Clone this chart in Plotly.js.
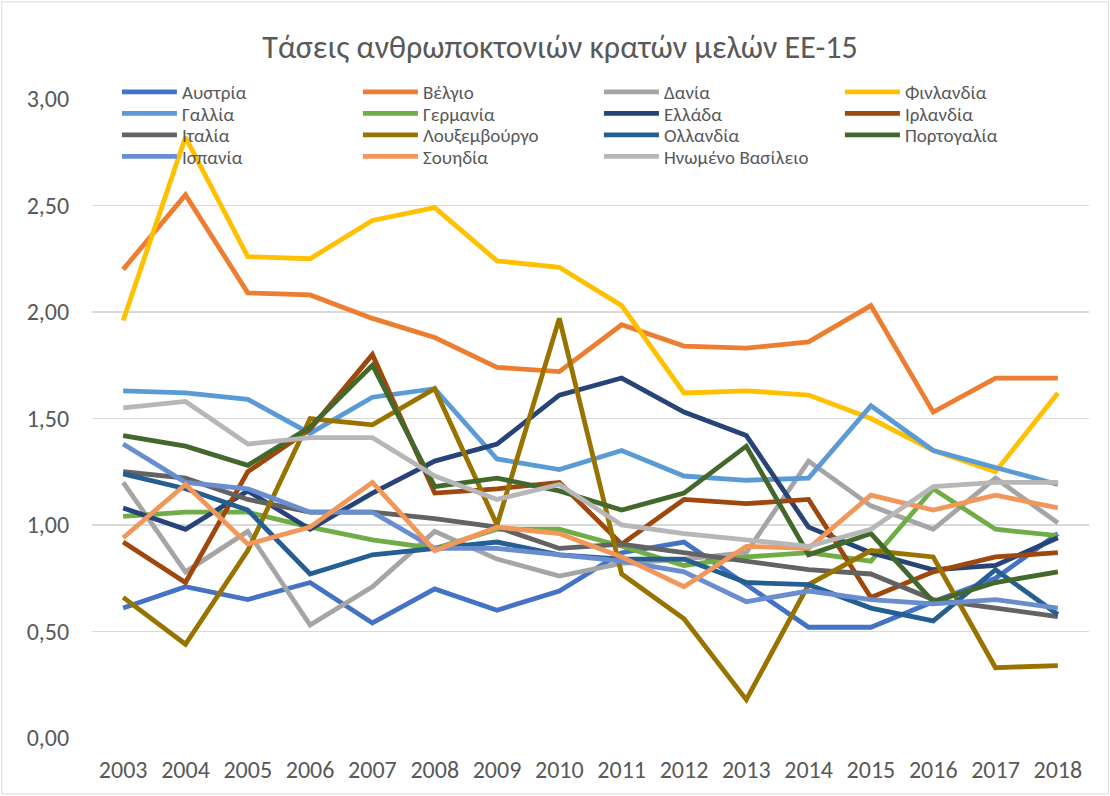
<!DOCTYPE html>
<html>
<head>
<meta charset="utf-8">
<script src="https://cdn.plot.ly/plotly-3.0.1.min.js"></script>
<style>html,body{margin:0;padding:0;background:#fff;}#chart{width:1110px;height:796px;}</style>
</head>
<body>
<div id="chart"></div>
<script>
const years = ["2003","2004","2005","2006","2007","2008","2009","2010","2011","2012","2013","2014","2015","2016","2017","2018"];

const austria     = [0.61,0.71,0.65,0.73,0.54,0.70,0.60,0.69,0.87,0.92,0.72,0.52,0.52,0.64,0.75,0.96];
const belgium     = [2.20,2.55,2.09,2.08,1.97,1.88,1.74,1.72,1.94,1.84,1.83,1.86,2.03,1.53,1.69,1.69];
const denmark     = [1.20,0.78,0.97,0.53,0.71,0.97,0.84,0.76,0.82,0.84,0.87,1.30,1.09,0.98,1.22,1.01];
const finland     = [1.96,2.82,2.26,2.25,2.43,2.49,2.24,2.21,2.03,1.62,1.63,1.61,1.50,1.35,1.25,1.62];
const france      = [1.63,1.62,1.59,1.43,1.60,1.64,1.31,1.26,1.35,1.23,1.21,1.22,1.56,1.35,1.27,1.19];
const germany     = [1.04,1.06,1.06,0.99,0.93,0.89,0.98,0.98,0.90,0.81,0.85,0.87,0.83,1.17,0.98,0.95];
const greece      = [1.08,0.98,1.16,0.98,1.15,1.30,1.38,1.61,1.69,1.53,1.42,0.99,0.87,0.79,0.81,0.94];
const ireland     = [0.92,0.73,1.25,1.45,1.80,1.15,1.17,1.20,0.91,1.12,1.10,1.12,0.66,0.78,0.85,0.87];
const italy       = [1.25,1.22,1.12,1.06,1.06,1.03,0.99,0.89,0.91,0.87,0.83,0.79,0.77,0.65,0.61,0.57];
const luxembourg  = [0.66,0.44,0.88,1.50,1.47,1.64,1.00,1.97,0.77,0.56,0.18,0.72,0.88,0.85,0.33,0.34];
const netherlands = [1.24,1.17,1.07,0.77,0.86,0.89,0.92,0.86,0.84,0.84,0.73,0.72,0.61,0.55,0.79,0.58];
const portugal    = [1.42,1.37,1.28,1.46,1.75,1.18,1.22,1.16,1.07,1.15,1.37,0.86,0.96,0.64,0.73,0.78];
const spain       = [1.38,1.20,1.17,1.06,1.06,0.89,0.89,0.86,0.83,0.78,0.64,0.69,0.65,0.63,0.65,0.61];
const sweden      = [0.94,1.19,0.91,0.99,1.20,0.88,0.99,0.96,0.85,0.71,0.90,0.89,1.14,1.07,1.14,1.08];
const uk          = [1.55,1.58,1.38,1.41,1.41,1.23,1.12,1.19,1.00,0.96,0.93,0.90,0.98,1.18,1.20,1.20];

const names = ["Αυστρία","Βέλγιο","Δανία","Φινλανδία","Γαλλία","Γερμανία","Ελλάδα","Ιρλανδία","Ιταλία","Λουξεμβούργο","Ολλανδία","Πορτογαλία","Ισπανία","Σουηδία","Ηνωμένο Βασίλειο"];
const series = [austria,belgium,denmark,finland,france,germany,greece,ireland,italy,luxembourg,netherlands,portugal,spain,sweden,uk];
const colors = ["#4472C4","#ED7D31","#A5A5A5","#FFC000","#5B9BD5","#70AD47","#264478","#9E480E","#636363","#997300","#255E91","#43682B","#698ED0","#F1975A","#B7B7B7"];

const legendIds = ['legend','legend2','legend3','legend4'];
const traces = series.map((s,i)=>({
  x: years, y: s, name: names[i], type: 'scatter', mode: 'lines',
  legend: legendIds[Math.floor(i/4)],
  line: {color: colors[i], width: 4.8}
}));

const font = "Carlito, Calibri, 'Liberation Sans', sans-serif";
const rowY = [92, 113.5, 135, 156.5];
function legendAt(py){
  return {orientation: 'h', x: 0.025, xanchor: 'left', y: (738 - py)/639, yanchor: 'middle',
    bgcolor: 'rgba(0,0,0,0)', borderwidth: 0, font: {family: font, size: 19, color: '#595959'},
    entrywidth: 171, entrywidthmode: 'pixels', itemwidth: 55, traceorder: 'normal'};
}

const layout = {
  width: 1110, height: 796,
  margin: {l: 92, r: 21, t: 99, b: 58},
  paper_bgcolor: '#fff', plot_bgcolor: '#fff',
  separators: ',.',
  font: {family: font, color: '#595959', size: 24},
  title: {text: 'Τάσεις ανθρωποκτονιών κρατών μελών ΕΕ-15', x: 0.5045, xanchor: 'center', y: 0.941, yanchor: 'middle', font: {family: font, size: 32, color: '#595959'}},
  xaxis: {type: 'category', range: [-0.5, 15.5], showgrid: false, showline: false, ticks: 'outside', ticklen: 10, tickcolor: 'rgba(0,0,0,0)', tickfont: {family: font, size: 24, color: '#595959'}, fixedrange: true},
  yaxis: {range: [0, 3], dtick: 0.5, tick0: 0, tickformat: '.2f', showgrid: true, gridcolor: '#d9d9d9', gridwidth: 1.5, zeroline: false, showline: false, ticks: 'outside', ticklen: 17, tickcolor: 'rgba(0,0,0,0)', tickfont: {family: font, size: 24, color: '#595959'}, fixedrange: true},
  legend: legendAt(rowY[0]),
  legend2: legendAt(rowY[1]),
  legend3: legendAt(rowY[2]),
  legend4: legendAt(rowY[3]),
  shapes: [{type: 'rect', xref: 'paper', yref: 'paper', x0: -0.0905, x1: 1.0195, y0: -0.0875, y1: 1.152, line: {color: '#d9d9d9', width: 1}}],
  showlegend: true
};

Plotly.newPlot('chart', traces, layout, {displayModeBar: false, staticPlot: true});
</script>
</body>
</html>
